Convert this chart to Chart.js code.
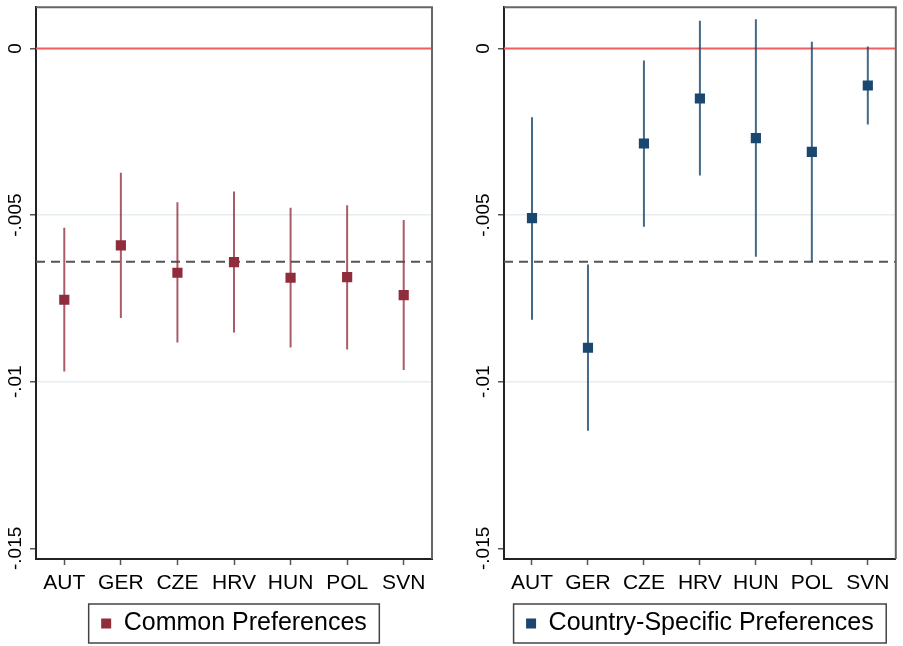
<!DOCTYPE html>
<html>
<head>
<meta charset="utf-8">
<title>Common vs country-specific preferences</title>
<script src="https://cdn.jsdelivr.net/npm/chart.js@4.4.1/dist/chart.umd.min.js"></script>
<style>
  body { margin: 0; background: #fff; }
  #wrap { position: relative; width: 903px; height: 646px; }
  canvas { position: absolute; top: 0; }
  #chartCommon { left: 0; }
  #chartSpecific { left: 450px; }
</style>
</head>
<body>
<div id="wrap">
  <canvas id="chartCommon" width="450" height="646"></canvas>
  <canvas id="chartSpecific" width="453" height="646"></canvas>
</div>
<script>
// valores
const countries = ['AUT', 'GER', 'CZE', 'HRV', 'HUN', 'POL', 'SVN'];

const commonEst = [-0.00754, -0.00591, -0.00673, -0.00641, -0.00688, -0.00686, -0.00740];
const commonLo  = [-0.00969, -0.00809, -0.00882, -0.00852, -0.00897, -0.00903, -0.00965];
const commonHi  = [-0.00538, -0.00373, -0.00461, -0.00429, -0.00478, -0.00470, -0.00515];

const specificEst = [-0.00509, -0.00898, -0.00285, -0.00150, -0.00269, -0.00310, -0.00111];
const specificLo  = [-0.00814, -0.01147, -0.00535, -0.00381, -0.00625, -0.00641, -0.00228];
const specificHi  = [-0.00206, -0.00648, -0.00036, 0.00083, 0.00088, 0.00020, 0.00006];

const zeroLine = 0;
const meanLine = -0.0064;

const yTicks = [0, -0.005, -0.01, -0.015];
const yTickLabels = ['0', '-.005', '-.01', '-.015'];
const yGrid = [-0.005, -0.01];
const yMin = -0.01532;
const yMax = 0.00124;

const FONT = "'Liberation Sans', Arial, sans-serif";

// marco superior/derecho y borde de la leyenda
const framePlugin = {
  id: 'frame',
  afterDraw(chart) {
    const { ctx, chartArea } = chart;
    ctx.save();
    ctx.strokeStyle = '#666';
    ctx.lineWidth = 2;
    ctx.beginPath();
    ctx.moveTo(chartArea.left, chartArea.top);
    ctx.lineTo(chartArea.right, chartArea.top);
    ctx.lineTo(chartArea.right, chartArea.bottom);
    ctx.stroke();

    const hb = chart.legend.legendHitBoxes[0];
    if (hb) {
      ctx.strokeStyle = '#444';
      ctx.lineWidth = 1.5;
      ctx.strokeRect(hb.left - 12.5, hb.top - 7, hb.width + 25, hb.height + 14);
    }
    ctx.restore();
  }
};

function errorBarPoints(lo, hi) {
  const pts = [];
  lo.forEach((v, i) => {
    pts.push({ x: i, y: v });
    pts.push({ x: i, y: hi[i] });
    pts.push({ x: i, y: null });
  });
  return pts;
}

function hLine(value) {
  return [{ x: -0.5, y: value }, { x: countries.length - 0.5, y: value }];
}

function crearGrafico(canvasId, opts) {
  return new Chart(document.getElementById(canvasId), {
    type: 'scatter',
    data: {
      datasets: [
        {
          label: opts.label,
          data: opts.est.map((v, i) => ({ x: i, y: v })),
          pointStyle: 'rect',
          pointRadius: 7.2,
          pointBorderWidth: 0,
          backgroundColor: opts.color,
          borderColor: opts.color,
          order: 0
        },
        {
          label: '',
          data: errorBarPoints(opts.lo, opts.hi),
          showLine: true,
          spanGaps: false,
          pointRadius: 0,
          borderWidth: 2,
          borderColor: opts.barColor,
          order: 1
        },
        {
          label: '',
          data: hLine(meanLine),
          showLine: true,
          pointRadius: 0,
          borderWidth: 2,
          borderDash: [9, 6],
          borderColor: '#555',
          order: 2
        },
        {
          label: '',
          data: hLine(zeroLine),
          showLine: true,
          pointRadius: 0,
          borderWidth: 2,
          borderColor: '#f25e5e',
          order: 3
        }
      ]
    },
    options: {
      responsive: false,
      animation: false,
      events: [],
      layout: { padding: { left: 0, right: opts.padRight, top: 4.8, bottom: 0 } },
      plugins: {
        tooltip: { enabled: false },
        legend: {
          position: 'bottom',
          fullSize: false,
          labels: {
            usePointStyle: true,
            boxWidth: 10,
            boxHeight: 10,
            padding: 10,
            color: '#000',
            font: { family: FONT, size: 25 },
            filter: item => item.datasetIndex === 0
          }
        }
      },
      scales: {
        x: {
          type: 'linear',
          min: -0.5,
          max: countries.length - 0.5,
          afterBuildTicks: scale => {
            scale.ticks = countries.map((c, i) => ({ value: i }));
          },
          afterFit: scale => { scale.height = 42; },
          ticks: {
            autoSkip: false,
            maxRotation: 0,
            padding: 6,
            color: '#000',
            font: { family: FONT, size: 21 },
            callback: value => countries[value]
          },
          grid: {
            drawOnChartArea: false,
            drawTicks: true,
            tickLength: 6,
            tickWidth: 1.5,
            tickColor: '#555'
          },
          border: { display: true, color: '#222', width: 2 }
        },
        y: {
          type: 'linear',
          min: yMin,
          max: yMax,
          afterBuildTicks: scale => {
            scale.ticks = yTicks.map(v => ({ value: v }));
          },
          afterFit: scale => { scale.width = opts.axisWidth; },
          ticks: {
            autoSkip: false,
            minRotation: 90,
            maxRotation: 90,
            crossAlign: 'center',
            padding: -7,
            color: '#000',
            font: { family: FONT, size: 19 },
            callback: value => yTickLabels[yTicks.indexOf(value)]
          },
          grid: {
            drawTicks: true,
            tickLength: 6,
            tickWidth: 1.5,
            tickColor: '#555',
            lineWidth: 1.5,
            color: ctx => (ctx.tick && yGrid.includes(ctx.tick.value)) ? '#e6eef1' : 'rgba(0,0,0,0)'
          },
          border: { display: true, color: '#222', width: 2 }
        }
      }
    },
    plugins: [framePlugin]
  });
}

crearGrafico('chartCommon', {
  label: 'Common Preferences',
  est: commonEst,
  lo: commonLo,
  hi: commonHi,
  color: '#8f2d3c',
  barColor: 'rgba(144, 45, 62, 0.78)',
  padRight: 18,
  axisWidth: 36
});

crearGrafico('chartSpecific', {
  label: 'Country-Specific Preferences',
  est: specificEst,
  lo: specificLo,
  hi: specificHi,
  color: '#1a476f',
  barColor: 'rgba(26, 71, 111, 0.82)',
  padRight: 3,
  axisWidth: 54
});
</script>
</body>
</html>
